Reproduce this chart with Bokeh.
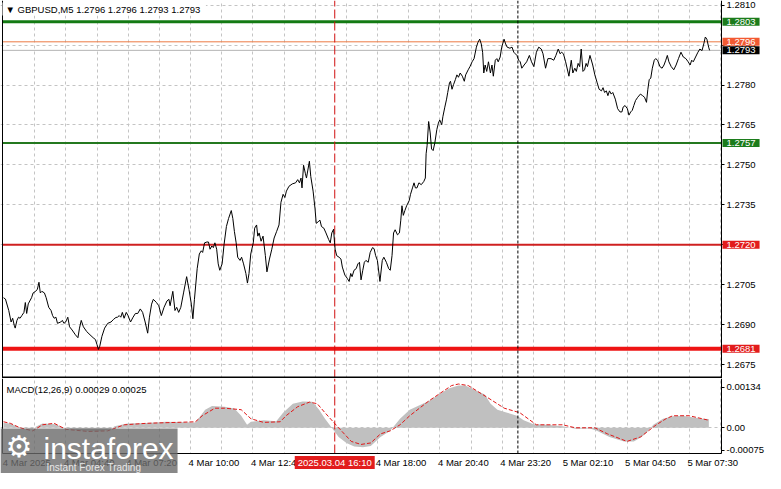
from bokeh.plotting import figure
from bokeh.models import Range1d, FixedTicker, Label, Grid, NumeralTickFormatter
from bokeh.layouts import column
from bokeh.embed import file_html
from bokeh.resources import INLINE

# ---------------- data ----------------
price_bar = [0, 1, 2.7, 3.9, 4.7, 5.5, 6, 6.9, 7.7, 8.5,
             9.4, 10.5, 11.2, 11.9, 12.7, 14.4, 15.2, 16.5, 17.4, 18.2,
             18.9, 19.7, 21, 21.9, 23.2, 24.4, 25.2, 26, 26.9, 27.7,
             29.4, 30.2, 31, 31.9, 33, 33.9, 35.2, 36.9, 38.2, 39,
             39.9, 41, 42.7, 44.4, 46, 47.2, 48, 48.7, 49.4, 50.5,
             51.9, 53.5, 55.2, 56.5, 57.7, 58.5, 59.4, 60.2, 61, 61.9,
             63, 63.9, 65.2, 66.5, 67.7, 68.9, 70.2, 71.4, 72.7, 74,
             74.9, 76, 76.9, 78.5, 79.7, 81, 82.4, 83.9, 84.9, 85.5,
             86.9, 88, 88.9, 89.9, 91, 92.4, 94, 95.2, 96.4, 97.2,
             98, 99.4, 100.5, 101.5, 102.2, 103.2, 104.4, 105.2, 106, 106.9,
             107.7, 108.5, 109.4, 110.2, 111, 112.2, 113.2, 114.4, 115.5, 116.9,
             117.7, 118.5, 119.4, 120.2, 121.4, 122.2, 123.2, 124.4, 125.2, 126,
             126.9, 128.2, 128.9, 129.9, 130.5, 131.2, 132.2, 133.2, 134.4, 135.2,
             136.5, 137.7, 138.9, 140.2, 141.4, 142.4, 143.5, 144.4, 145.2, 146.5,
             148.2, 149.9, 151, 151.9, 152.7, 153.2, 154, 154.9, 155.5, 156.2,
             157, 157.7, 158.9, 159.9, 160.5, 161.5, 162.4, 163.2, 164.4, 165.5,
             166.9, 167.7, 168.5, 169.4, 169.9, 170.2, 171, 172.2, 173.2, 173.9,
             175.2, 176.4, 177.4, 178.2, 178.9, 179.9, 181, 181.9, 182.7, 183.5,
             184.4, 185.2, 186, 187.2, 188.2, 189.4, 190.2, 191, 191.9, 193.2,
             194.4, 195.2, 196.5, 197.7, 198.5, 199.4, 200.2, 201, 202.2, 203.2,
             203.9, 204.5, 205.2, 206, 206.9, 208.2, 208.9, 209.9, 210.7, 211.4,
             212.2, 213.2, 214.4, 215.7, 216.5, 216.9, 217.4, 218.2, 219, 219.7,
             220.5, 221.4, 222.4, 223.2, 223.9, 224.9, 225.5, 226.5, 227.4, 228,
             228.9, 229.4, 230.2, 231, 231.9, 232.7, 233.5, 234.4, 235.5, 236.5,
             237.2, 238.5, 239.4, 240.5, 241.5, 242.7, 243.5, 244.4, 245.2, 245.9,
             246.5, 247.2, 248, 248.9, 249.9, 250.7, 251.4, 252.4, 253.2, 253.9,
             254.9, 255.7, 256.9, 257.7, 258.5, 259.9, 261, 261.9, 262.7, 263.5,
             264.4, 265.2, 266, 267.2, 268.5, 269.9, 271, 272.2, 273.5, 274.7,
             276, 276.9, 278.2, 279.4, 281, 282.4, 283.5, 284.7, 285.7, 286.4,
             287.4, 288.5, 290.2, 291.4, 292.2, 293.2, 294, 294.9, 295.7, 296.5,
             297.4, 298.2, 299, 299.7, 301, 302.4, 303.5, 304.7, 305.7, 306.9,
             307.7, 308.5, 309.4, 310.2, 311, 311.9, 312.7, 314, 315.2, 316.4,
             317.4, 318, 319, 320.2, 321, 321.9, 322.7, 323.5, 324.4, 325.5,
             326.9, 328, 329, 330, 330.7, 331.4, 332.2, 333, 334, 334.7,
             335.7, 336.9, 338, 339, 339.9, 340.7, 341.5, 342.7, 344, 345.2,
             346.4, 347.7, 348.9, 350.2, 351.4, 352.4, 353.2, 354, 355.2, 356.4,
             357.4, 358.5, 359.4, 360.2, 361, 361.9, 362.4]

price_close = [1.27002, 1.26997, 1.26954, 1.26911, 1.26925, 1.26899, 1.26888, 1.26917, 1.26929, 1.26925,
               1.26935, 1.26947, 1.26984, 1.26943, 1.26979, 1.27002, 1.27020, 1.27026, 1.27034, 1.27060,
               1.27020, 1.27026, 1.27020, 1.27002, 1.26966, 1.26954, 1.26935, 1.26925, 1.26929, 1.26906,
               1.26911, 1.26917, 1.26906, 1.26911, 1.26929, 1.26893, 1.26881, 1.26863, 1.26852, 1.26888,
               1.26917, 1.26893, 1.26875, 1.26863, 1.26852, 1.26845, 1.26826, 1.26808, 1.26820, 1.26857,
               1.26888, 1.26906, 1.26911, 1.26921, 1.26928, 1.26929, 1.26935, 1.26929, 1.26947, 1.26925,
               1.26947, 1.26935, 1.26911, 1.26929, 1.26943, 1.26943, 1.26960, 1.26947, 1.26911, 1.26869,
               1.26929, 1.26978, 1.26996, 1.26984, 1.26972, 1.26935, 1.26966, 1.26990, 1.26996, 1.26972,
               1.27026, 1.26954, 1.26966, 1.26947, 1.26966, 1.27020, 1.27081, 1.27033, 1.26978, 1.26923,
               1.26996, 1.27111, 1.27166, 1.27178, 1.27172, 1.27208, 1.27211, 1.27211, 1.27184, 1.27196,
               1.27190, 1.27208, 1.27184, 1.27129, 1.27105, 1.27129, 1.27202, 1.27269, 1.27299, 1.27329,
               1.27299, 1.27251, 1.27208, 1.27154, 1.27142, 1.27154, 1.27129, 1.27093, 1.27057, 1.27093,
               1.27166, 1.27208, 1.27263, 1.27275, 1.27233, 1.27245, 1.27214, 1.27233, 1.27160, 1.27099,
               1.27147, 1.27184, 1.27226, 1.27251, 1.27275, 1.27360, 1.27390, 1.27378, 1.27402, 1.27420,
               1.27429, 1.27433, 1.27445, 1.27433, 1.27451, 1.27414, 1.27499, 1.27469, 1.27451, 1.27481,
               1.27514, 1.27457, 1.27402, 1.27335, 1.27281, 1.27287, 1.27293, 1.27269, 1.27263, 1.27245,
               1.27220, 1.27208, 1.27245, 1.27259, 1.27208, 1.27184, 1.27160, 1.27154, 1.27147, 1.27117,
               1.27087, 1.27075, 1.27063, 1.27093, 1.27081, 1.27105, 1.27111, 1.27129, 1.27135, 1.27069,
               1.27105, 1.27135, 1.27142, 1.27135, 1.27172, 1.27190, 1.27186, 1.27160, 1.27142, 1.27063,
               1.27142, 1.27154, 1.27135, 1.27111, 1.27105, 1.27160, 1.27245, 1.27257, 1.27238, 1.27245,
               1.27293, 1.27347, 1.27311, 1.27329, 1.27347, 1.27366, 1.27390, 1.27414, 1.27433, 1.27414,
               1.27414, 1.27433, 1.27426, 1.27438, 1.27451, 1.27542, 1.27572, 1.27663, 1.27620, 1.27560,
               1.27554, 1.27584, 1.27633, 1.27657, 1.27669, 1.27651, 1.27681, 1.27717, 1.27747, 1.27772,
               1.27808, 1.27814, 1.27784, 1.27802, 1.27820, 1.27838, 1.27829, 1.27845, 1.27833, 1.27814,
               1.27838, 1.27857, 1.27869, 1.27887, 1.27899, 1.27942, 1.27960, 1.27972, 1.27954, 1.27923,
               1.27845, 1.27875, 1.27851, 1.27887, 1.27845, 1.27875, 1.27833, 1.27893, 1.27899, 1.27887,
               1.27905, 1.27942, 1.27972, 1.27954, 1.27942, 1.27938, 1.27942, 1.27923, 1.27917, 1.27911,
               1.27893, 1.27887, 1.27863, 1.27875, 1.27887, 1.27911, 1.27887, 1.27869, 1.27923, 1.27942,
               1.27935, 1.27917, 1.27863, 1.27899, 1.27899, 1.27893, 1.27911, 1.27935, 1.27917, 1.27923,
               1.27917, 1.27887, 1.27833, 1.27893, 1.27845, 1.27863, 1.27851, 1.27881, 1.27869, 1.27935,
               1.27851, 1.27857, 1.27881, 1.27869, 1.27911, 1.27875, 1.27838, 1.27808, 1.27784, 1.27778,
               1.27790, 1.27772, 1.27778, 1.27760, 1.27778, 1.27766, 1.27772, 1.27747, 1.27711, 1.27699,
               1.27699, 1.27717, 1.27723, 1.27711, 1.27687, 1.27699, 1.27705, 1.27723, 1.27742, 1.27754,
               1.27766, 1.27760, 1.27754, 1.27735, 1.27784, 1.27820, 1.27826, 1.27863, 1.27893, 1.27899,
               1.27893, 1.27869, 1.27863, 1.27875, 1.27893, 1.27911, 1.27887, 1.27869, 1.27857, 1.27875,
               1.27899, 1.27923, 1.27905, 1.27899, 1.27887, 1.27875, 1.27893, 1.27887, 1.27905, 1.27923,
               1.27935, 1.27929, 1.27954, 1.27980, 1.27972, 1.27942, 1.27930]

hist_bar = [0, 3.5, 8.5, 15, 17, 20, 27, 30, 38.5, 48.5,
            55, 57, 63.5, 73.5, 83.5, 98.5, 100, 103.5, 107, 113.5,
            118.5, 122, 125, 127, 133.5, 140, 143.5, 148.5, 153.5, 158.5,
            162, 165, 168.5, 172, 176, 180, 184.5, 188.5, 193.5, 198.5,
            201, 203.5, 208.5, 213.5, 218.5, 223.5, 228.5, 233.5, 237, 243.5,
            247, 250, 253.5, 258.5, 263.5, 267, 272, 278.5, 287, 293.5,
            301, 304.5, 311, 318.5, 323.5, 327.5, 331, 333.5, 338.5, 343.5,
            348.5, 353.5, 358.5, 362]
hist_val = [0.00016, 0.00014, 0.0, -0.00004, 0.00005, 0.00014, 0.00012, 0.0, -0.00008, -0.00012,
            -0.00005, 0.00005, 0.00014, 0.00016, 0.0002, 0.00018, 0.0003, 0.0006, 0.00072, 0.0007,
            0.00064, 0.0004, 0.0001, 0.0002, 0.00025, 0.00022, 0.0005, 0.0008, 0.00087, 0.00086,
            0.0006, 0.0003, 0.0, -0.0003, -0.0005, -0.00062, -0.00064, -0.0006, -0.0003, -0.0001,
            0.0001, 0.0003, 0.0006, 0.00075, 0.0009, 0.0011, 0.0013, 0.0014, 0.0014, 0.0012,
            0.0011, 0.0008, 0.0006, 0.0005, 0.0004, 0.00025, 0.00012, 0.0001, 0.00005, -0.00003,
            -0.00002, -0.0001, -0.0003, -0.00045, -0.00045, -0.0003, -0.0001, 0.0001, 0.0003, 0.00038,
            0.0004, 0.00035, 0.0003, 0.00029]

signal_bar = [0, 3.5, 8.5, 15, 20, 26, 32, 43.5, 53.5, 62,
              73.5, 98.5, 102, 108.5, 113.5, 122, 127, 133.5, 142, 145,
              151, 157, 161, 165, 172, 178.5, 183.5, 188.5, 193.5, 198.5,
              203.5, 208.5, 218.5, 230, 233.5, 238.5, 243.5, 248.5, 257, 265,
              273.5, 287, 293.5, 303.5, 310, 320, 327, 335, 340, 343.5,
              352, 362]
signal_val = [0.0002, 0.00015, 0.0, -0.0001, 0.0001, 0.00015, -0.00005, -0.00012, -0.0001, 0.0001,
              0.00015, 0.0002, 0.0004, 0.00065, 0.00065, 0.0006, 0.0003, 0.00018, 0.0002, 0.0004,
              0.0007, 0.00085, 0.0008, 0.0005, 0.0, -0.00045, -0.00055, -0.0005, -0.0002, -0.0001,
              0.0001, 0.0004, 0.0009, 0.0014, 0.00145, 0.0014, 0.0012, 0.001, 0.00065, 0.0005,
              0.0001, 0.0001, 0.0, 0.0, -0.0002, -0.00045, -0.0003, 0.0001, 0.0003, 0.0004,
              0.0004, 0.00025]

price_ticks = [1.2675, 1.2690, 1.2705, 1.2720, 1.2735, 1.2750, 1.2765, 1.2780, 1.2795, 1.2810]
level_values = [1.28037, 1.27962, 1.27930, 1.27582, 1.27201, 1.26811]
level_labels = ["1.2803", "1.2796", "1.2793", "1.2757", "1.2720", "1.2681"]

macd_ticks = [-0.00075, 0.0, 0.00134]
macd_tick_labels = ["-0.00075", "0.00", "0.00134"]

time_tick_bars = [0, 32, 64, 96, 128, 160, 192, 224, 256, 288, 320, 352]
time_tick_labels = ["4 Mar 2025", "4 Mar 04:40", "4 Mar 07:20", "4 Mar 10:00", "4 Mar 12:40",
                    "4 Mar 15:20", "4 Mar 18:00", "4 Mar 20:40", "4 Mar 23:20", "5 Mar 02:10",
                    "5 Mar 04:50", "5 Mar 07:30"]
grid_bars = list(range(16, 369, 16))

cursor_bar = 170
cursor_label = "2025.03.04 16:10"
day_separator_bar = 264

title_text = "\u25BC GBPUSD,M5  1.2796 1.2796 1.2793 1.2793"
macd_text = "MACD(12,26,9) 0.00029 0.00025"

# ---------------- geometry / styles ----------------
FONT = "Liberation Sans"
FS = "9.5px"
W, H1, H2 = 765, 378, 95
DATA_LEFT_PX, AXIS_PX = 3, 721          # pixel of bar 0 and of the price scale line
X_AXIS = 368.5                          # bar position of the price scale line
PPB = (AXIS_PX - DATA_LEFT_PX) / X_AXIS


def bx(px):
    return (px - DATA_LEFT_PX) / PPB


P1_TOP, P1_BOT = 1.28117, 1.26699


def p1_y(px):
    return P1_TOP - px * (P1_TOP - P1_BOT) / H1


M_TOP, M_BOT = 0.0016, -0.00085        # values at px 1 and px 75 of the MACD canvas
M_PER_PX = (M_TOP - M_BOT) / 74.0


def p2_y(px):
    return M_TOP - (px - 1) * M_PER_PX


GRID_C = "#c4c4c4"
level_colors = ["#137a13", "#ec7a44", "#b4b4b4", "#24781f", "#cf2020", "#ee1414"]
level_widths = [3, 1, 1, 2, 2, 4]
tag_bg = ["#1c7c1c", "#f25a32", "#000000", "#1c7c1c", "#e21c1c", "#e21c1c"]

xr = Range1d(bx(0), bx(W))


def base_fig(height, y_range):
    p = figure(width=W, height=height, x_range=xr, y_range=y_range,
               output_backend="svg", toolbar_location=None,
               x_axis_location="below", y_axis_location="right",
               min_border_left=0, min_border_right=0, min_border_top=0, min_border_bottom=0)
    p.background_fill_color = "white"
    p.border_fill_color = "white"
    p.outline_line_color = None
    for g in p.grid:
        g.visible = False
    p.add_layout(Grid(dimension=0, ticker=FixedTicker(ticks=grid_bars), grid_line_color=GRID_C,
                      grid_line_dash="3 3", grid_line_width=1))
    ax = p.yaxis[0]
    ax.fixed_location = X_AXIS
    ax.axis_line_color = "black"
    ax.major_tick_line_color = "black"
    ax.major_tick_out = 3
    ax.major_tick_in = 0
    ax.minor_tick_line_color = None
    ax.major_label_standoff = 2
    ax.major_label_text_font = FONT
    ax.major_label_text_font_size = FS
    ax.major_label_text_color = "black"
    return p


# ---------------- main price panel ----------------
p1 = base_fig(H1, Range1d(P1_BOT, P1_TOP))
p1.xaxis.visible = False
p1.yaxis.ticker = FixedTicker(ticks=price_ticks)
p1.yaxis.formatter = NumeralTickFormatter(format="0.0000")
p1.add_layout(Grid(dimension=1, ticker=FixedTicker(ticks=price_ticks), grid_line_color=GRID_C,
                   grid_line_dash="3 3", grid_line_width=1))

# white price-scale strip (hides grid lines right of the scale)
p1.quad(left=X_AXIS, right=bx(W + 2), bottom=P1_BOT, top=P1_TOP, fill_color="white", line_color=None)

# levels, stopping at the price scale
p1.segment(x0=[bx(DATA_LEFT_PX - 1)] * len(level_values), y0=level_values,
           x1=[X_AXIS] * len(level_values), y1=level_values,
           line_color=level_colors, line_width=level_widths)

# vertical markers
p1.segment(x0=[cursor_bar], y0=[P1_BOT], x1=[cursor_bar], y1=[P1_TOP],
           line_color="#d01010", line_dash="9 3", line_width=1)
p1.segment(x0=[day_separator_bar], y0=[P1_BOT], x1=[day_separator_bar], y1=[P1_TOP],
           line_color="black", line_dash="3 2", line_width=1)

# frame: left border and panel separator
p1.segment(x0=[bx(2)], y0=[P1_BOT], x1=[bx(2)], y1=[P1_TOP], line_color="black", line_width=1)
p1.segment(x0=[bx(2)], y0=[p1_y(H1 - 1)], x1=[X_AXIS], y1=[p1_y(H1 - 1)], line_color="black", line_width=2)

p1.line(price_bar, price_close, line_color="black", line_width=1)

for v, t, bg in zip(level_values, level_labels, tag_bg):
    p1.add_layout(Label(x=bx(AXIS_PX + 1), y=v, text=t,
                        text_font=FONT, text_font_size=FS, text_color="white",
                        text_align="left", text_baseline="middle",
                        background_fill_color=bg, padding=(4, 1)))

p1.add_layout(Label(x=bx(2), y=p1_y(2), text=title_text,
                    text_font=FONT, text_font_size=FS, text_color="black",
                    text_align="left", text_baseline="top",
                    background_fill_color="white", padding=(3, 1)))

# ---------------- MACD panel ----------------
Y_AXIS2 = p2_y(75)
p2 = base_fig(H2, Range1d(p2_y(H2), p2_y(0)))
p2.yaxis.ticker = FixedTicker(ticks=macd_ticks)
p2.yaxis.major_label_overrides = {t: s for t, s in zip(macd_ticks, macd_tick_labels)}
p2.yaxis[0].bounds = (Y_AXIS2, p2_y(0))
p2.add_layout(Grid(dimension=1, ticker=FixedTicker(ticks=[0.0]), grid_line_color=GRID_C,
                   grid_line_dash="3 3", grid_line_width=1))

LABEL_SHIFT = 12  # MT4 time labels start at their tick
shifted = [b + LABEL_SHIFT for b in time_tick_bars]
xa = p2.xaxis[0]
xa.fixed_location = Y_AXIS2
xa.bounds = (bx(2), X_AXIS)
xa.ticker = FixedTicker(ticks=shifted)
xa.major_label_overrides = {s: l for s, l in zip(shifted, time_tick_labels)}
xa.axis_line_color = "black"
xa.major_tick_line_color = None
xa.major_tick_out = 0
xa.major_tick_in = 0
xa.minor_tick_line_color = None
xa.minor_tick_out = 0
xa.major_label_standoff = 3
xa.major_label_text_font = FONT
xa.major_label_text_font_size = FS
xa.major_label_text_color = "black"

# white strips right of the value scale and below the time scale
p2.quad(left=X_AXIS, right=bx(W + 2), bottom=p2_y(H2 + 2), top=p2_y(-2), fill_color="white", line_color=None)
p2.quad(left=bx(-2), right=bx(W + 2), bottom=p2_y(H2 + 2), top=Y_AXIS2, fill_color="white", line_color=None)

p2.varea(x=hist_bar, y1=0, y2=hist_val, fill_color="#c0c0c0")
p2.line(signal_bar, signal_val, line_color="#e01818", line_dash="4 2", line_width=1)

p2.segment(x0=[cursor_bar], y0=[Y_AXIS2], x1=[cursor_bar], y1=[p2_y(0)],
           line_color="#d01010", line_dash="9 3", line_width=1)
p2.segment(x0=[day_separator_bar], y0=[Y_AXIS2], x1=[day_separator_bar], y1=[p2_y(0)],
           line_color="black", line_dash="3 2", line_width=1)
p2.segment(x0=[bx(2)], y0=[Y_AXIS2], x1=[bx(2)], y1=[p2_y(0)], line_color="black", line_width=1)

p2.add_layout(Label(x=bx(6), y=p2_y(5), text=macd_text,
                    text_font=FONT, text_font_size=FS, text_color="black",
                    text_align="left", text_baseline="top"))

p2.add_layout(Label(x=cursor_bar, y=p2_y(84), text=cursor_label,
                    text_font=FONT, text_font_size=FS, text_color="white",
                    text_align="center", text_baseline="middle",
                    background_fill_color="#e21c1c", padding=(3, 1)))

# watermark
p2.add_layout(Label(x=bx(0), y=p2_y(50), text="instaforex",
                    text_font=FONT, text_font_size="30px", text_color="white",
                    text_align="left", text_baseline="top",
                    background_fill_color="#6a6a6a", background_fill_alpha=0.8,
                    padding=dict(left=43, right=4, top=3, bottom=10)))
p2.add_layout(Label(x=bx(5), y=p2_y(68), text="\u2699",
                    text_font="DejaVu Sans", text_font_size="30px", text_color="white",
                    text_align="left", text_baseline="middle"))
p2.add_layout(Label(x=bx(46), y=p2_y(89), text="Instant Forex Trading",
                    text_font=FONT, text_font_size="10px", text_color="#e8e8e8",
                    text_align="left", text_baseline="middle"))

layout = column(p1, p2, spacing=0)
open("out.html", "w").write(file_html(layout, INLINE))
